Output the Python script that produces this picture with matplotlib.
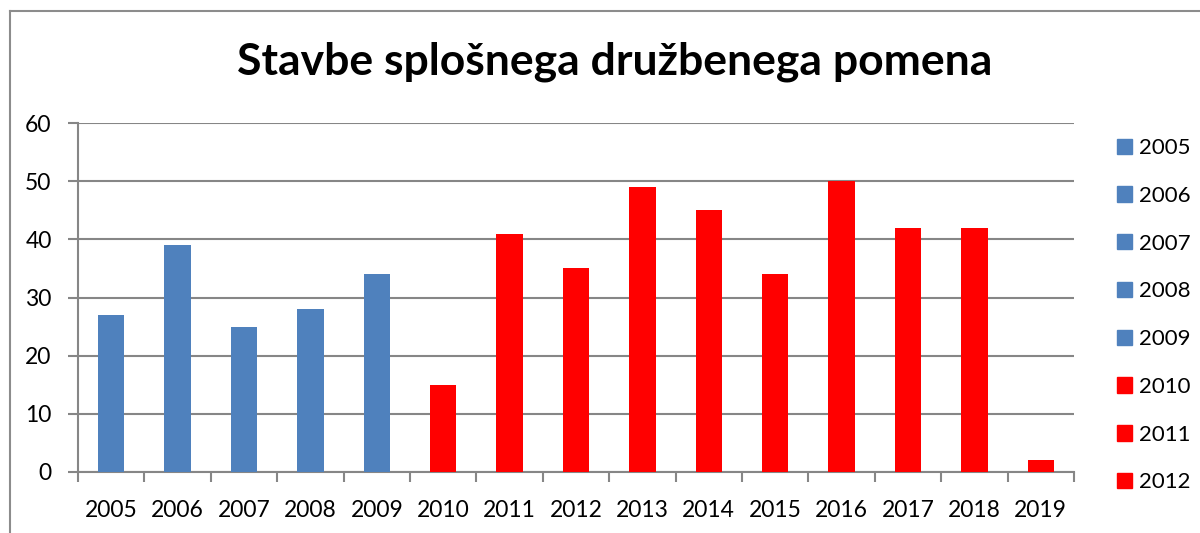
import matplotlib.pyplot as plt
from matplotlib.patches import Patch

plt.rcParams['font.family'] = ['Lato', 'DejaVu Sans']

years = ['2005', '2006', '2007', '2008', '2009', '2010', '2011', '2012',
         '2013', '2014', '2015', '2016', '2017', '2018', '2019']
values = [27, 39, 25, 28, 34, 15, 41, 35, 49, 45, 34, 50, 42, 42, 2]
# first five years blue, rest red (as in the original sheet)
bar_colors = ['#4F81BD'] * 5 + ['#FF0000'] * 10
legend_years = years[:8]

title = 'Stavbe splošnega družbenega pomena'
grid_col = '#868686'

fig = plt.figure(figsize=(12, 5.33), dpi=100)
ax = fig.add_axes([78 / 1200, 1 - 472 / 533, (1074 - 78) / 1200, (472 - 123) / 533])

x = list(range(len(years)))
ax.bar(x, values, width=0.4, color=bar_colors, zorder=3)

ax.set_xlim(-0.5, len(years) - 0.5)
ax.set_ylim(0, 60)
ax.set_yticks(range(0, 61, 10))
ax.set_xticks(x)
ax.set_xticklabels(years)
ax.set_xticks([i - 0.5 for i in range(len(years) + 1)], minor=True)

ax.grid(axis='y', color=grid_col, linewidth=1.5, zorder=0)
for s in ['top', 'right']:
    ax.spines[s].set_visible(False)
for s in ['left', 'bottom']:
    ax.spines[s].set_color(grid_col)
    ax.spines[s].set_linewidth(1.5)

ax.tick_params(axis='y', length=7, width=1.5, color=grid_col, labelsize=16.5, pad=12)
ax.tick_params(axis='x', which='major', length=0, labelsize=16.5, pad=20)
ax.tick_params(axis='x', which='minor', length=7, width=1.5, color=grid_col)

fig.text(0.512, 1 - 62 / 533, title, ha='center', va='center',
         fontsize=32, fontweight='bold')

handles = [Patch(color=c) for c in bar_colors[:len(legend_years)]]
fig.legend(handles, legend_years, loc='upper left', bbox_to_anchor=(1117 / 1200, 1 - 138 / 533),
           frameon=False, fontsize=16, handlelength=0.68, handleheight=0.68,
           handletextpad=0.32, labelspacing=1.25, borderaxespad=0, borderpad=0)

# outer chart border (bottom/right cut off in original screenshot)
fig.add_artist(plt.Line2D([9.5 / 1200, 9.5 / 1200], [0, 1 - 10.5 / 533], color='#8c8c8c', lw=1.5))
fig.add_artist(plt.Line2D([9.5 / 1200, 1], [1 - 10.5 / 533, 1 - 10.5 / 533], color='#8c8c8c', lw=1.5))

fig.savefig('out.png', dpi=100)
